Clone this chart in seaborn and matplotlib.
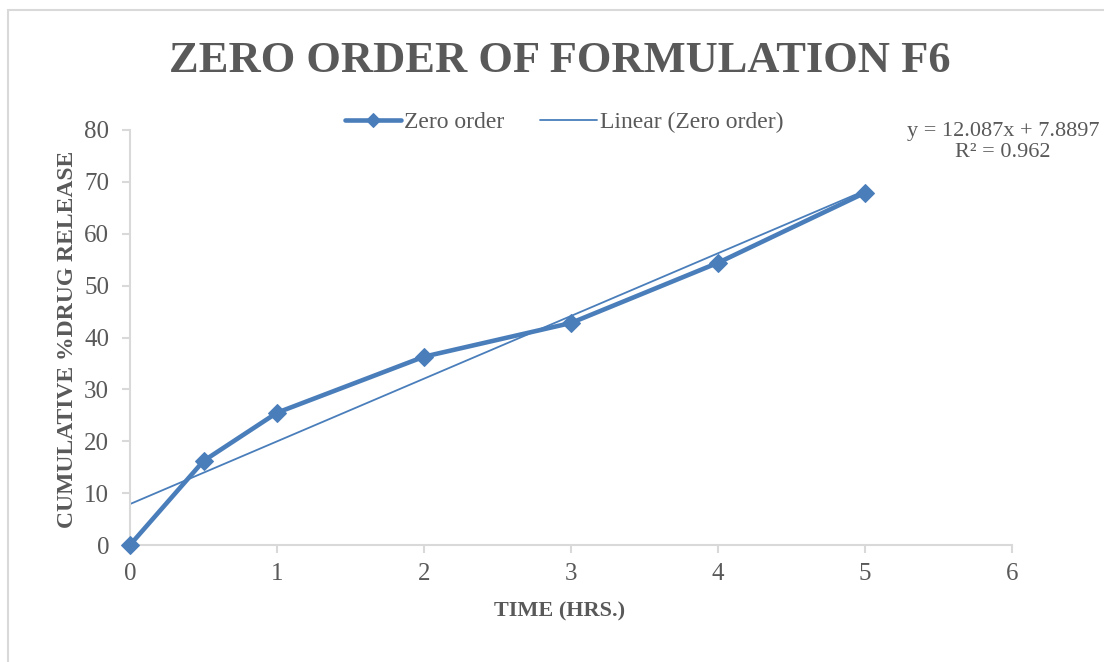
import numpy as np
import pandas as pd
import matplotlib
matplotlib.use("Agg")
import matplotlib.pyplot as plt
import seaborn as sns
from matplotlib.patches import Rectangle

# ---- data ----
time_hrs = [0, 0.5, 1, 2, 3, 4, 5]
cum_release = [0, 16.2, 25.5, 36.3, 42.8, 54.4, 67.9]
fit_slope = 12.087
fit_intercept = 7.8897
fit_r2 = 0.962
x_ticks = [0, 1, 2, 3, 4, 5, 6]
y_ticks = [0, 10, 20, 30, 40, 50, 60, 70, 80]

sns.set_theme(style="white")
plt.rcParams['font.family'] = ['Liberation Serif', 'DejaVu Serif']

text_c = '#595959'
line_c = '#4A7EBB'
axis_c = '#D9D9D9'

fig = plt.figure(figsize=(11.04, 6.62), dpi=100)
ax = fig.add_axes([130/1104, 117/662, 882/1104, 415/662])

df = pd.DataFrame({'time': time_hrs, 'release': cum_release})
sns.lineplot(data=df, x='time', y='release', ax=ax, color=line_c, linewidth=3.3,
             marker='D', markersize=9.5, markeredgecolor=line_c, label='Zero order',
             clip_on=False, zorder=3)

fit_x = np.array([time_hrs[0], time_hrs[-1]])
fit_df = pd.DataFrame({'time': fit_x, 'fit': fit_slope * fit_x + fit_intercept})
sns.lineplot(data=fit_df, x='time', y='fit', ax=ax, color=line_c, linewidth=1.3,
             label='Linear (Zero order)', zorder=2)

ax.set_xlim(x_ticks[0], x_ticks[-1])
ax.set_ylim(y_ticks[0], y_ticks[-1])
ax.set_xticks(x_ticks)
ax.set_yticks(y_ticks)
for s in ['top', 'right']:
    ax.spines[s].set_visible(False)
for s in ['left', 'bottom']:
    ax.spines[s].set_color(axis_c)
    ax.spines[s].set_linewidth(1.5)
ax.tick_params(axis='both', which='both', length=6, width=1.5, color=axis_c,
               labelsize=18, labelcolor=text_c, direction='out',
               bottom=True, left=True)
ax.tick_params(axis='x', pad=7)
ax.tick_params(axis='y', pad=9)

ax.set_xlabel('TIME (HRS.)', fontsize=16, fontweight='bold', color=text_c)
ax.xaxis.set_label_coords(0.4875, -0.137)
ax.set_ylabel('CUMULATIVE %DRUG RELEASE', fontsize=17, fontweight='bold', color=text_c)
ax.yaxis.set_label_coords(-0.059, 0.496)

leg = ax.legend(loc='center', bbox_to_anchor=(0.492, 1.018), ncol=2, frameon=False,
                fontsize=17, handlelength=2.4, handletextpad=0.13, columnspacing=1.5,
                borderaxespad=0, borderpad=0)
for t in leg.get_texts():
    t.set_color(text_c)
leg.legend_handles[0].set_markersize(7.5)

fig.text(1003/1104, 1 - 142/662, f'y = {fit_slope}x + {fit_intercept}\nR² = {fit_r2}',
         ha='center', va='center', fontsize=16, color=text_c, linespacing=1.12)

fig.text(560/1104, 1 - 72/662, 'ZERO ORDER OF FORMULATION F6', ha='center', va='baseline',
         fontsize=32, fontweight='bold', color=text_c)

fig.patches.append(Rectangle((8/1104, -0.05), 1.2, (652/662) + 0.05, transform=fig.transFigure,
                             fill=False, edgecolor=axis_c, linewidth=1.5))

fig.savefig('out.png', dpi=100)
